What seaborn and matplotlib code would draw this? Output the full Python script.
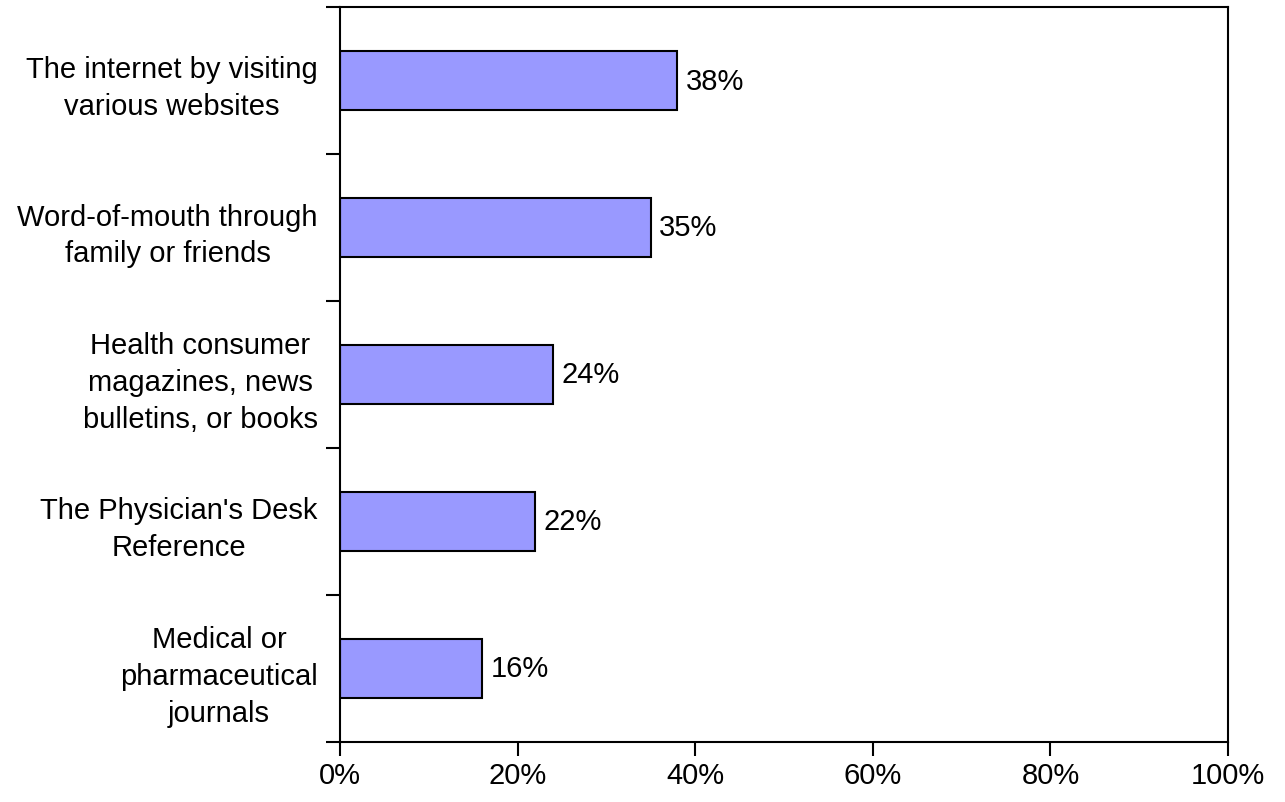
import pandas as pd
import matplotlib.pyplot as plt
import matplotlib.ticker as mticker
import seaborn as sns

# Chart data
sources = [
    "The internet by visiting\nvarious websites",
    "Word-of-mouth through\nfamily or friends",
    "Health consumer\nmagazines, news\nbulletins, or books",
    "The Physician's Desk\nReference",
    "Medical or\npharmaceutical\njournals",
]
shares = [38, 35, 24, 22, 16]
x_ticks = [0, 20, 40, 60, 80, 100]

df = pd.DataFrame({"source": sources, "share": shares})

sns.set_theme(style="white")
plt.rcParams["font.family"] = ["Liberation Sans", "DejaVu Sans"]
plt.rcParams["text.color"] = "black"
plt.rcParams["xtick.color"] = "black"
plt.rcParams["ytick.color"] = "black"

fig = plt.figure(figsize=(12.85, 8.03), dpi=100)
ax = fig.add_axes([340 / 1285, 1 - 743 / 803, 888 / 1285, 735 / 803])

sns.barplot(data=df, x="share", y="source", orient="h", color="#9999FF",
            width=0.4, edgecolor="black", linewidth=1.5, saturation=1, ax=ax)

# Value labels
for cont in ax.containers:
    ax.bar_label(cont, labels=[f"{v}%" for v in shares], padding=6,
                 fontsize=21, color="black")

ax.set_xlim(0, 100)
ax.set_ylim(len(sources) - 0.5, -0.5)
ax.set_xticks(x_ticks)
ax.xaxis.set_major_formatter(mticker.FuncFormatter(lambda v, p: f"{v:.0f}%"))

# tick marks between categories, labels at centres
ax.set_yticks([i - 0.5 for i in range(len(sources) + 1)], minor=True)
ax.tick_params(axis="y", which="major", length=0, pad=16, labelsize=21)
ax.tick_params(axis="y", which="minor", left=True, length=10, width=1.5, color="black")
ax.tick_params(axis="x", bottom=True, length=10, width=1.5, color="black", pad=4, labelsize=21)
for lab in ax.get_yticklabels():
    lab.set_multialignment("center")
    lab.set_linespacing(1.4)
    lab.set_color("black")

for sp in ax.spines.values():
    sp.set_visible(True)
    sp.set_color("black")
    sp.set_linewidth(1.5)

ax.set_xlabel("")
ax.set_ylabel("")

plt.savefig("out.png", dpi=100)
